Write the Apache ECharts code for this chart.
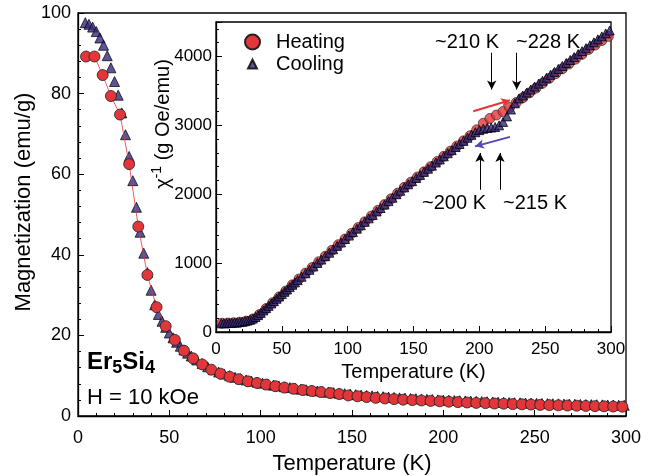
<!DOCTYPE html>
<html>
<head>
<meta charset="utf-8">
<script src="https://cdn.jsdelivr.net/npm/echarts@6/dist/echarts.min.js"></script>
<style>
  html, body { margin: 0; padding: 0; background: #fff; }
  #chart { width: 650px; height: 476px; }
</style>
</head>
<body>
<div id="chart"></div>
<script>
// heating run (circles), temperature in K
const heatT = [4.4, 9, 13.5, 18, 23, 28, 33, 38, 43, 48, 53,
  58, 63, 68, 73, 78, 83, 88, 93, 98, 103, 108, 113, 118, 123, 128, 133, 138, 143, 148, 153,
  158, 163, 168, 173, 178, 183, 188, 193, 198, 203, 208, 213, 218, 223, 228, 233, 238, 243, 248, 253,
  258, 263, 268, 273, 278, 283, 288, 293, 298];
// magnetization, emu/g
const heatM = [89.2, 89.2, 84.6, 79.4, 74.8, 62.5, 47, 35, 27, 22.3, 18.9,
  16.2, 14.3, 12.8, 11.5, 10.5, 9.75, 9.15, 8.6, 8.2, 7.8,
  7.4, 7.05, 6.75, 6.45, 6.2, 5.95, 5.7, 5.45, 5.1, 4.9,
  4.7, 4.5, 4.35, 4.2, 4.05, 3.95, 3.85, 3.75, 3.65, 3.55,
  3.45, 3.35, 3.25, 3.2, 3.1, 3.05, 2.95, 2.9, 2.85, 2.75,
  2.7, 2.65, 2.6, 2.55, 2.5, 2.45, 2.4, 2.35, 2.3];
// inverse susceptibility, g Oe/emu
const heatChi = [128, 130, 135, 142, 158, 190, 255, 340, 425, 510, 595,
  685, 770, 855, 935, 1020, 1100, 1185, 1268, 1350, 1433,
  1516, 1600, 1683, 1766, 1850, 1933, 2016, 2100, 2175, 2250,
  2325, 2400, 2475, 2550, 2625, 2700, 2775, 2850, 2935, 3030,
  3100, 3150, 3200, 3260, 3330, 3400, 3470, 3540, 3610, 3680,
  3750, 3820, 3890, 3960, 4030, 4100, 4165, 4230, 4290];

// cooling run (triangles)
const coolT = [4, 6, 8, 10, 12, 14, 16, 18, 20, 22, 24, 26, 28, 30, 32, 34, 36, 38, 40, 42,
  44, 46, 48, 50, 52, 54, 56, 58, 60,
  62, 65, 68, 71, 74, 77, 80, 83, 86, 89, 92, 95, 98, 101, 104, 107, 110, 113, 116, 119,
  122, 125, 128, 131, 134, 137, 140, 143, 146, 149, 152, 155, 158, 161, 164, 167, 170, 173, 176, 179,
  182, 185, 188, 191, 194, 197, 200, 203, 206, 209, 212, 215, 218, 221, 224, 227, 230, 233, 236, 239,
  242, 245, 248, 251, 254, 257, 260, 263, 266, 269, 272, 275, 278, 281, 284, 287, 290, 293, 296, 299];
const coolM = [97.6, 97.2, 96.5, 95.4, 93.8, 92.0, 89.4, 86.4, 83.0, 79.6, 75.2, 69.8, 64.4, 58.4, 51.8,
  45.6, 40.4, 35.6, 31.2, 27.6, 25.2, 23.5, 22.0, 20.6, 19.4, 18.3, 17.3, 16.4, 15.6,
  14.9, 13.9, 13.0, 12.2, 11.5, 10.9, 10.4, 10.0, 9.6, 9.25,
  8.95, 8.65, 8.4, 8.15, 7.9, 7.65, 7.45, 7.25, 7.05, 6.85,
  6.65, 6.5, 6.35, 6.2, 6.05, 5.9, 5.8, 5.65, 5.55, 5.45,
  5.3, 5.2, 5.1, 5.0, 4.9, 4.8, 4.7, 4.6, 4.5, 4.45,
  4.35, 4.3, 4.2, 4.15, 4.1, 4.0, 3.95, 3.9, 3.85, 3.8,
  3.75, 3.7, 3.65, 3.6, 3.55, 3.5, 3.45, 3.4, 3.35, 3.3,
  3.27, 3.23, 3.2, 3.16, 3.12, 3.08, 3.05, 3.02, 2.98, 2.95,
  2.92, 2.89, 2.86, 2.83, 2.8, 2.77, 2.74, 2.72, 2.69, 2.66];
const coolChi = [126, 127, 129, 131, 133, 136, 140, 144, 150, 157, 166, 178, 195, 218, 245,
  278, 313, 346, 380, 414, 448, 482, 516, 550, 584, 618, 652, 686, 720,
  753, 803, 853, 903, 952, 1002, 1052, 1101, 1151, 1201,
  1250, 1300, 1350, 1400, 1450, 1500, 1550, 1600, 1650, 1700,
  1750, 1800, 1850, 1900, 1950, 2000, 2050, 2100, 2145, 2190,
  2235, 2280, 2325, 2370, 2415, 2460, 2505, 2550, 2595, 2640,
  2685, 2730, 2775, 2820, 2862, 2900, 2930, 2950, 2962, 2968,
  2975, 3000, 3050, 3130, 3230, 3320, 3390, 3433, 3476, 3519,
  3562, 3605, 3648, 3690, 3733, 3776, 3819, 3862, 3905, 3948,
  3991, 4034, 4077, 4120, 4162, 4205, 4248, 4291, 4334, 4377];

const mainXTicks = [0, 50, 100, 150, 200, 250, 300];
const mainYTicks = [0, 20, 40, 60, 80, 100];
const insetYTicks = [0, 1000, 2000, 3000, 4000];

const FONT = '"Liberation Sans", Arial, Helvetica, sans-serif';
const RED = '#e2363a';
const BLUE = '#33287e';

function pairs(xs, ys) {
  return xs.map((x, i) => [x, ys[i]]);
}

function axisBase(fontSize) {
  return {
    axisLine: { show: true, onZero: false, lineStyle: { color: '#000', width: 1.3 } },
    axisTick: { show: true, inside: true, length: 6, lineStyle: { color: '#000', width: 1 } },
    minorTick: { show: true, splitNumber: 5, length: 3, lineStyle: { color: '#000', width: 1 } },
    splitLine: { show: false },
    axisLabel: { color: '#000', fontSize: fontSize, fontFamily: FONT },
    nameTextStyle: { color: '#000', fontFamily: FONT }
  };
}

const chart = echarts.init(document.getElementById('chart'));

chart.setOption({
  animation: false,
  backgroundColor: '#fff',
  grid: [
    { left: 78, right: 24, top: 13, bottom: 60, show: true, borderColor: '#000', borderWidth: 1.3,
      outerBoundsMode: 'none' },
    { left: 216, right: 39, top: 22, bottom: 144, show: true, borderColor: '#000', borderWidth: 1.3,
      outerBoundsMode: 'none' }
  ],
  xAxis: [
    Object.assign(axisBase(18), {
      gridIndex: 0, type: 'value', min: 0, max: 300, interval: 50,
      name: 'Temperature (K)', nameLocation: 'middle', nameGap: 37,
      nameTextStyle: { color: '#000', fontFamily: FONT, fontSize: 22 },
      axisLabel: { color: '#000', fontSize: 18, fontFamily: FONT, margin: 13,
        formatter: v => mainXTicks.includes(v) ? String(v) : '' }
    }),
    Object.assign(axisBase(17), {
      gridIndex: 1, type: 'value', min: 0, max: 300, interval: 50,
      name: 'Temperature (K)', nameLocation: 'middle', nameGap: 30,
      nameTextStyle: { color: '#000', fontFamily: FONT, fontSize: 20 },
      axisLabel: { color: '#000', fontSize: 17, fontFamily: FONT, margin: 9 }
    })
  ],
  yAxis: [
    Object.assign(axisBase(18), {
      gridIndex: 0, type: 'value', min: 0, max: 100, interval: 20,
      axisLabel: { color: '#000', fontSize: 18, fontFamily: FONT, margin: 7,
        formatter: v => mainYTicks.includes(v) ? String(v) : '' }
    }),
    Object.assign(axisBase(17), {
      gridIndex: 1, type: 'value', min: 0, max: 4500, interval: 1000,
      axisLabel: { color: '#000', fontSize: 17, fontFamily: FONT, margin: 4,
        formatter: v => insetYTicks.includes(v) ? String(v) : '' }
    })
  ],
  legend: [
    {
      data: [{ name: 'Heating', icon: 'circle' }],
      left: 239, top: 27, itemWidth: 15, itemHeight: 15,
      textStyle: { color: '#000', fontSize: 20, fontFamily: FONT, padding: [0, 0, 0, 11] }
    },
    {
      data: [{ name: 'Cooling', icon: 'triangle' }],
      left: 242, top: 49, itemWidth: 9, itemHeight: 9,
      textStyle: { color: '#000', fontSize: 20, fontFamily: FONT, padding: [0, 0, 0, 14] }
    }
  ],
  series: [
    {
      name: 'Heating', type: 'line', xAxisIndex: 0, yAxisIndex: 0,
      data: pairs(heatT, heatM),
      symbol: 'circle', symbolSize: 11,
      lineStyle: { color: RED, width: 0.8 },
      itemStyle: { color: RED, borderColor: '#222', borderWidth: 0.8 }
    },
    {
      name: 'Cooling', type: 'scatter', xAxisIndex: 0, yAxisIndex: 0,
      data: pairs(coolT, coolM),
      symbol: 'triangle', symbolSize: 10,
      itemStyle: { color: BLUE, borderColor: '#000', borderWidth: 0.9 }
    },
    {
      name: 'Heating', type: 'scatter', xAxisIndex: 1, yAxisIndex: 1,
      data: pairs(heatT, heatChi),
      symbol: 'circle', symbolSize: 10,
      itemStyle: { color: RED, borderColor: '#222', borderWidth: 0.8 }
    },
    {
      name: 'Cooling', type: 'scatter', xAxisIndex: 1, yAxisIndex: 1,
      data: pairs(coolT, coolChi),
      symbol: 'triangle', symbolSize: 9,
      itemStyle: { color: BLUE, borderColor: '#000', borderWidth: 1 },
      markLine: {
        silent: true, symbol: ['none', 'arrow'], symbolSize: [7, 9],
        label: { show: false },
        lineStyle: { type: 'solid', color: '#000', width: 1 },
        data: [
          [{ coord: [209.4, 4054] }, { coord: [209.4, 3520] }],
          [{ coord: [228.4, 4054] }, { coord: [228.4, 3520] }],
          [{ coord: [200.5, 2065] }, { coord: [200.5, 2599] }],
          [{ coord: [215.7, 2065] }, { coord: [215.7, 2599] }],
          [{ coord: [195.4, 3204], lineStyle: { color: RED, width: 2 } }, { coord: [223.3, 3365] }],
          [{ coord: [223.3, 2832], lineStyle: { color: '#5a45b5', width: 2 } }, { coord: [196.7, 2695] }]
        ]
      }
    }
  ],
  graphic: [
    {
      type: 'text', x: 24, y: 202, rotation: Math.PI / 2,
      style: { text: 'Magnetization (emu/g)', fontSize: 22, fontFamily: FONT, fill: '#000',
        align: 'center', verticalAlign: 'middle' }
    },
    {
      type: 'text', x: 163, y: 124, rotation: Math.PI / 2,
      style: {
        text: '{a|χ}{s|-1}{a| (g Oe/emu)}',
        align: 'center', verticalAlign: 'middle', fill: '#000',
        rich: {
          a: { fontSize: 20, fontFamily: FONT, fill: '#000' },
          s: { fontSize: 14, fontFamily: FONT, fill: '#000', padding: [0, 0, 12, 0] }
        }
      }
    },
    {
      type: 'text', left: 87, top: 350,
      style: {
        text: '{b|Er}{s|5}{b|Si}{s|4}', fill: '#000',
        rich: {
          b: { fontSize: 24, fontWeight: 'bold', fontFamily: FONT, fill: '#000' },
          s: { fontSize: 18, fontWeight: 'bold', fontFamily: FONT, fill: '#000', padding: [13, 0, 0, 0] }
        }
      }
    },
    {
      type: 'text', left: 87, top: 387,
      style: { text: 'H = 10 kOe', fontSize: 22, fontFamily: FONT, fill: '#000' }
    },
    {
      type: 'text', x: 467, y: 42,
      style: { text: '~210 K', fontSize: 20, fontFamily: FONT, fill: '#000', align: 'center', verticalAlign: 'middle' }
    },
    {
      type: 'text', x: 548, y: 42,
      style: { text: '~228 K', fontSize: 20, fontFamily: FONT, fill: '#000', align: 'center', verticalAlign: 'middle' }
    },
    {
      type: 'text', x: 454, y: 203,
      style: { text: '~200 K', fontSize: 20, fontFamily: FONT, fill: '#000', align: 'center', verticalAlign: 'middle' }
    },
    {
      type: 'text', x: 535, y: 203,
      style: { text: '~215 K', fontSize: 20, fontFamily: FONT, fill: '#000', align: 'center', verticalAlign: 'middle' }
    }
  ]
});
</script>
</body>
</html>
